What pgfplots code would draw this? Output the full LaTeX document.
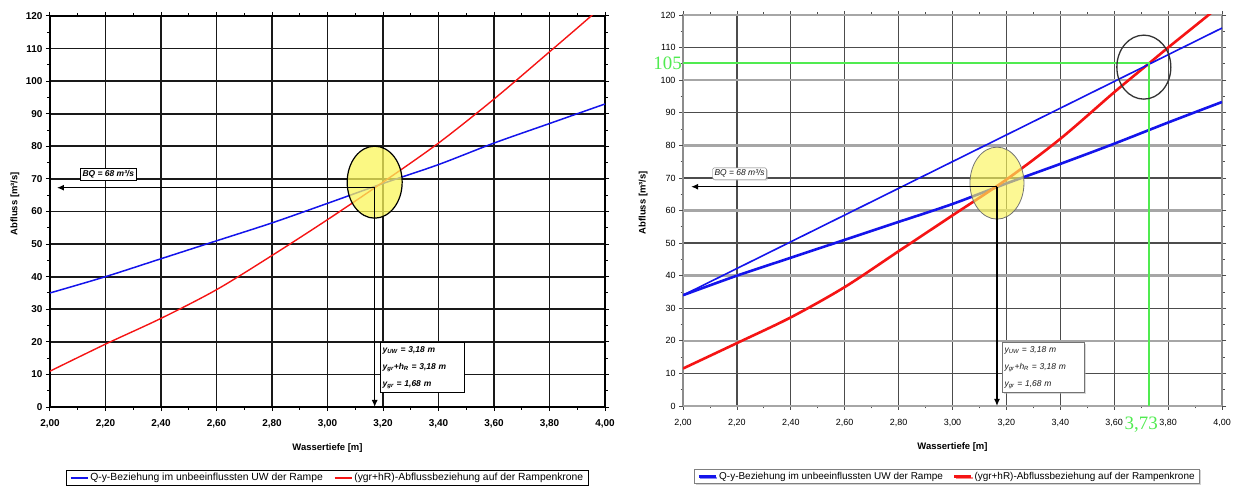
\documentclass[border=0pt]{standalone}
\usepackage{fontspec}
\setmainfont{Liberation Sans}
\newfontfamily\timesfont{Liberation Serif}
\usepackage{pgfplots}
\usepackage{pgfplotstable}
\pgfplotsset{compat=1.18}
\usetikzlibrary{arrows.meta,shadows}

\definecolor{myblue}{RGB}{20,20,235}
\definecolor{myred}{RGB}{245,20,20}
\definecolor{mygreen}{RGB}{80,235,80}
\definecolor{myyellow}{RGB}{250,245,90}

\pgfplotstableread{
x y
2.00 35
2.20 40
2.40 45.5
2.60 51
2.80 56.5
3.00 62.5
3.20 68.6
3.40 74.4
3.60 81
3.80 87
4.00 93
}\leftblue
\pgfplotstableread{
x y
2.00 11
2.20 19.3
2.40 27.2
2.60 36
2.80 46.5
3.00 57.5
3.20 69
3.40 81
3.60 94.5
3.80 109
3.95 120
4.00 124
}\leftred
\pgfplotstableread{
x y
2.00 34
2.20 40
2.40 45.5
2.60 51
2.80 56.5
3.00 62
3.20 68.3
3.40 74.3
3.60 80.5
3.80 87
4.00 93.3
}\rightblue
\pgfplotstableread{
x y
2.00 34
2.40 50.4
2.80 66.8
3.20 83.2
3.60 99.6
4.00 116
}\rightbluethin
\pgfplotstableread{
x y
2.00 11.5
2.20 19.3
2.40 27.2
2.60 36.5
2.80 47.5
3.00 58.5
3.20 69.5
3.40 82
3.60 96.3
3.73 105.2
3.80 110
3.95 120
4.00 123.5
}\rightred

\pgfplotsset{base/.style={
  scale only axis, height=391bp,
  xmin=2, xmax=4, ymin=0, ymax=120,
  xtick={2,2.2,2.4,2.6,2.8,3,3.2,3.4,3.6,3.8,4},
  ytick={0,10,20,30,40,50,60,70,80,90,100,110,120},
  minor x tick num=1, minor y tick num=1,
  xmajorgrids, ymajorgrids,
  /pgf/number format/assume math mode=true,
  x tick label style={/pgf/number format/fixed, /pgf/number format/fixed zerofill, /pgf/number format/precision=2, /pgf/number format/use comma},
  y tick label style={/pgf/number format/fixed, /pgf/number format/precision=0},
  tick align=outside,
  major tick length=4bp, minor tick length=2.5bp,
  clip mode=individual,
  legend columns=2,
  legend cell align=left,
  xlabel={Wassertiefe [m]}, ylabel={Abfluss [m³/s]},
  xlabel style={at={(axis description cs:0.5,0)}, anchor=center, yshift=-41bp},
}}

\begin{document}
\begin{tikzpicture}
\useasboundingbox (0,0) rectangle (1234bp,489bp);

% ---------------- left panel ----------------
\begin{axis}[base, at={(50bp,82bp)}, anchor=south west, width=555bp,
  axis line style={line width=1.8bp, black},
  grid style={line width=1.8bp, black!90},
  tick style={line width=1bp, black},
  tick label style={font=\fontsize{10}{10}\selectfont\bfseries},
  x tick label style={yshift=-5bp},
  label style={font=\fontsize{9.5}{10}\selectfont\bfseries},
  ylabel style={at={(axis description cs:-0.063,0.52)}, anchor=center},
  legend style={at={(axis description cs:0.5,-0.161)}, anchor=north, draw=black, line width=1bp,
    font=\fontsize{10.4}{11}\selectfont, inner ysep=1bp,
    /tikz/every even column/.append style={column sep=9bp}},
]
\addplot[myblue, line width=1.5bp, smooth] table[x=x,y=y]{\leftblue};
\addlegendentry{Q-y-Beziehung im unbeeinflussten UW der Rampe}
\addplot[myred, line width=1.4bp, smooth] table[x=x,y=y]{\leftred};
\addlegendentry{(ygr+hR)-Abflussbeziehung auf der Rampenkrone}

\fill[myyellow, fill opacity=0.75] (axis cs:3.17,69) ellipse [x radius=27.5bp, y radius=36bp];
\draw[black, line width=1.2bp] (axis cs:3.17,69) ellipse [x radius=27.5bp, y radius=36bp];
\draw[line width=1.3bp, -{Latex[length=7bp,width=6bp]}] (axis cs:3.17,67.3) -- (axis cs:2.025,67.3);
\draw[line width=1.3bp, -{Latex[length=7bp,width=6bp]}] (axis cs:3.17,67.3) -- (axis cs:3.17,0);
\node[draw, line width=1bp, fill=white, inner sep=2bp, font=\fontsize{8.5}{10}\selectfont\itshape\bfseries] at (axis cs:2.21,71.4) {BQ = 68 m³/s};
\node[draw, line width=1bp, fill=white, anchor=north west, align=left, inner xsep=2bp, inner ysep=4bp, text width=80bp,
  font=\fontsize{8.5}{17}\selectfont\itshape\bfseries] at (axis cs:3.19,19.9)
  {y\textsubscript{UW} = 3,18 m\\ y\textsubscript{gr}+h\textsubscript{R} = 3,18 m\\ y\textsubscript{gr} = 1,68 m};
\end{axis}

% ---------------- right panel ----------------
\begin{axis}[base, at={(683bp,83bp)}, anchor=south west, width=539bp,
  axis line style={line width=1.4bp, black!45},
  grid style={line width=1.2bp, black!70},
  extra y ticks={0,20,40,60,80,100,120}, extra y tick labels={},
  extra y tick style={grid style={line width=2.6bp, black!35}},
  tick style={line width=0.8bp, black!70},
  tick label style={font=\fontsize{9}{10}\selectfont},
  x tick label style={yshift=-6bp},
  label style={font=\fontsize{9.5}{10}\selectfont\bfseries},
  ylabel style={at={(axis description cs:-0.074,0.52)}, anchor=center},
  legend style={at={(axis description cs:0.49,-0.16)}, anchor=north, draw=black!50, line width=0.8bp, fill=white,
    drop shadow={shadow xshift=1.5bp, shadow yshift=-1.5bp, fill=black!35},
    font=\fontsize{10}{11}\selectfont, inner ysep=1bp,
    /tikz/every even column/.append style={column sep=8bp}},
]
\addplot[myblue, line width=2.6bp, smooth] table[x=x,y=y]{\rightblue};
\addlegendentry{Q-y-Beziehung im unbeeinflussten UW der Rampe}
\addplot[myred, line width=2.6bp, smooth] table[x=x,y=y]{\rightred};
\addlegendentry{(ygr+hR)-Abflussbeziehung auf der Rampenkrone}
\addplot[myblue, line width=1.6bp, forget plot] table[x=x,y=y]{\rightbluethin};

\draw[mygreen, line width=2bp] (axis cs:2,105.2) -- (axis cs:3.73,105.2) -- (axis cs:3.73,0);
\fill[myyellow, fill opacity=0.65] (axis cs:3.165,68.4) ellipse [x radius=27bp, y radius=36bp];
\draw[black!55, line width=0.8bp] (axis cs:3.165,68.4) ellipse [x radius=27bp, y radius=36bp];
\draw[black!80, line width=1.3bp] (axis cs:3.71,104) ellipse [x radius=27bp, y radius=32bp];
\draw[line width=1.3bp, -{Latex[length=7bp,width=6bp]}] (axis cs:3.165,67.3) -- (axis cs:2.03,67.3);
\draw[line width=1.3bp, -{Latex[length=7bp,width=6bp]}] (axis cs:3.165,67.3) -- (axis cs:3.165,0);
\node[draw=black!55, rounded corners=1.5bp, fill=white, drop shadow={shadow xshift=1.2bp, shadow yshift=-1.2bp, fill=black!30},
  inner sep=2bp, text=black!90, font=\fontsize{8.5}{10}\selectfont\itshape] at (axis cs:2.21,71.3) {BQ = 68 m³/s};
\node[draw=black!55, fill=white, drop shadow={shadow xshift=1.2bp, shadow yshift=-1.2bp, fill=black!30},
  anchor=north west, align=left, inner xsep=2bp, inner ysep=4bp, text width=78bp, text=black!90,
  font=\fontsize{8.5}{17}\selectfont\itshape] at (axis cs:3.185,19.6)
  {y\textsubscript{UW} = 3,18 m\\ y\textsubscript{gr}+h\textsubscript{R} = 3,18 m\\ y\textsubscript{gr} = 1,68 m};
\node[text=mygreen, font=\timesfont\fontsize{19}{19}\selectfont, anchor=east, inner sep=1bp] at (axis cs:2,105.2) {105};
\node[text=mygreen, font=\timesfont\fontsize{19}{19}\selectfont, anchor=north, inner sep=1bp] at (axis cs:3.70,0) [yshift=-10bp] {3,73};
\end{axis}
\end{tikzpicture}
\end{document}
